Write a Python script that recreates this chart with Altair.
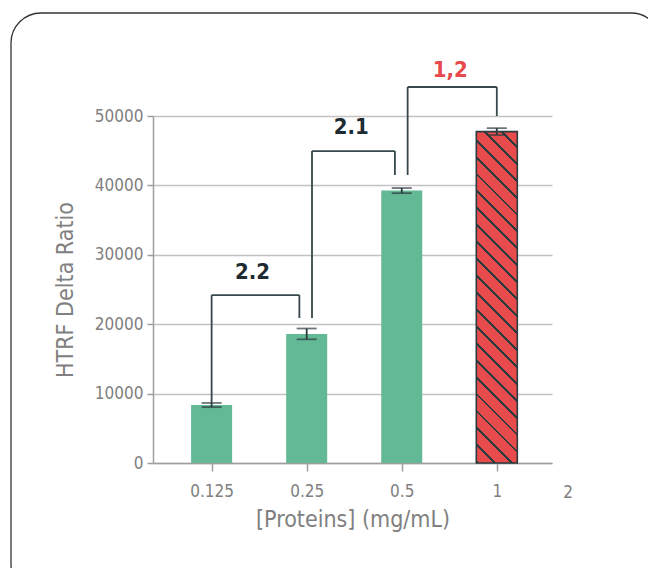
import altair as alt
import pandas as pd

# ---- data ----
categories = ["0.125", "0.25", "0.5", "1"]
values = [8350, 18600, 39250, 47750]
errors = [300, 780, 370, 500]
highlight = [False, False, False, True]
extra_tick_label = "2"

# significance brackets: left/right bar, bracket height, foot heights, label
br_left = [0, 1, 2]
br_right = [1, 2, 3]
br_left_off = [0.0, 0.056, 0.062]
br_right_off = [-0.077, -0.072, 0.0]
br_top = [24200, 44950, 54180]
br_left_foot = [8600, 20900, 41500]
br_right_foot = [20900, 41500, 50000]
br_labels = ["2.2", "2.1", "1,2"]
br_label_x = [0.43, 1.47, 2.51]
br_label_y = [27500, 48400, 56600]
br_label_color = ["#1e2b32", "#1e2b32", "#e8474b"]

FONT = "DejaVu Sans Condensed, Liberation Sans Narrow, sans-serif"
GREEN = "#63b995"
RED = "#e84b4b"
DARK = "#2c3b40"
GRAY = "#808080"

W, H = 399, 347
BAR_W = 41

df = pd.DataFrame({
    "pos": list(range(len(categories))),
    "cat": categories,
    "value": values,
    "lo": [v - e for v, e in zip(values, errors)],
    "hi": [v + e for v, e in zip(values, errors)],
    "hl": highlight,
})

segs = []
for i in range(len(br_labels)):
    xl = br_left[i] + br_left_off[i]
    xr = br_right[i] + br_right_off[i]
    segs.append({"x": xl, "x2": xl, "y": br_left_foot[i], "y2": br_top[i]})
    segs.append({"x": xl, "x2": xr, "y": br_top[i], "y2": br_top[i]})
    segs.append({"x": xr, "x2": xr, "y": br_right_foot[i], "y2": br_top[i]})
segs = pd.DataFrame(segs)

lab = pd.DataFrame({
    "x": br_label_x,
    "y": br_label_y,
    "t": br_labels,
    "c": br_label_color,
})

xscale = alt.Scale(domain=[-0.564, 3.528], nice=False, zero=False)
yscale = alt.Scale(domain=[0, 50000], nice=False)

label_expr = "[" + ",".join("'" + c + "'" for c in categories) + "][datum.value]"

x_enc = alt.X("pos:Q", scale=xscale,
              axis=alt.Axis(values=list(range(len(categories))), labelExpr=label_expr,
                            title="[Proteins] (mg/mL)", grid=False, tickSize=8,
                            labelPadding=12, titlePadding=9, labelFontSize=17))
y_enc = alt.Y("value:Q", scale=yscale,
              axis=alt.Axis(values=[0, 10000, 20000, 30000, 40000, 50000], format="d",
                            title="HTRF Delta Ratio", grid=True, tickSize=6,
                            labelPadding=4, titlePadding=17, labelFontSize=17))

base = alt.Chart(df)

border = alt.Chart(alt.Data(values=[{"a": 1}])).mark_rect(
    cornerRadius=30, fillOpacity=0, stroke="#333333", strokeWidth=1.3, clip=False
).encode(x=alt.value(-142), x2=alt.value(508), y=alt.value(-103), y2=alt.value(478))

green = base.transform_filter("!datum.hl").mark_bar(size=BAR_W, color=GREEN).encode(x=x_enc, y=y_enc)

# diagonal hatch as a sharp-stop linear gradient
bar_h = values[3] / 50000 * H
r = BAR_W / bar_h
k = (r + 1) / (r * r + 1)
n_stripes = 22
wfrac = 0.17
stops = []
for i in range(n_stripes):
    a = i / n_stripes
    b = (i + 1 - wfrac) / n_stripes
    c = (i + 1) / n_stripes
    stops += [alt.GradientStop(offset=a, color=RED), alt.GradientStop(offset=b, color=RED),
              alt.GradientStop(offset=b, color=DARK), alt.GradientStop(offset=c, color=DARK)]
hatch = alt.LinearGradient(gradient="linear", stops=stops, x1=1, y1=0, x2=1 - k * r, y2=k)

red = base.transform_filter("datum.hl").mark_bar(
    size=BAR_W, fill=hatch, stroke=DARK, strokeWidth=1.6
).encode(x="pos:Q", y="value:Q")

err = base.mark_rule(color=DARK, strokeWidth=1.8).encode(x="pos:Q", y="lo:Q", y2="hi:Q")
cap_lo = base.mark_tick(orient="horizontal", size=20, thickness=1.8, color=DARK).encode(x="pos:Q", y="lo:Q")
cap_hi = base.mark_tick(orient="horizontal", size=20, thickness=1.8, color=DARK).encode(x="pos:Q", y="hi:Q")

brackets = alt.Chart(segs).mark_rule(color="#37474b", strokeWidth=1.8).encode(
    x="x:Q", x2="x2:Q", y="y:Q", y2="y2:Q")

labels = alt.Chart(lab).mark_text(font=FONT, fontSize=22, fontWeight="bold", baseline="middle").encode(
    x="x:Q", y="y:Q", text="t:N", color=alt.Color("c:N", scale=None))

extra = alt.Chart(alt.Data(values=[{"t": extra_tick_label}])).mark_text(
    font=FONT, fontSize=17, color=GRAY, baseline="middle"
).encode(x=alt.datum(3.75), y=alt.value(377), text="t:N")

chart = alt.layer(border, green, red, err, cap_lo, cap_hi, brackets, labels, extra).properties(
    width=W, height=H,
    autosize=alt.AutoSizeParams(type="none"),
    padding={"left": 145, "top": 108, "right": 96, "bottom": 105},
).configure_view(stroke=None).configure_axis(
    labelFont=FONT, titleFont=FONT, titleFontSize=23,
    labelColor=GRAY, titleColor=GRAY, titleFontWeight="normal",
    domainColor="#9e9e9e", domainWidth=1.5, tickColor="#9e9e9e", tickWidth=1.5,
    gridColor="#c2c2c2", gridWidth=1.5,
)

chart.save("out.html", embed_options={"renderer": "svg", "actions": False})
